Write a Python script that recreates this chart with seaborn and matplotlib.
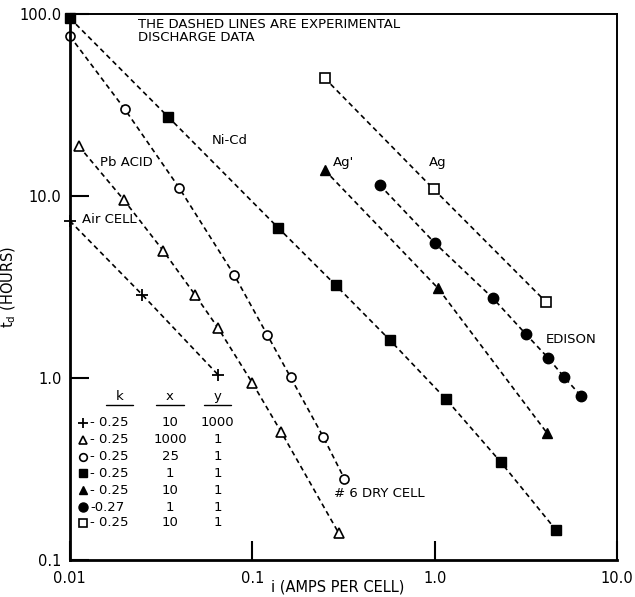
import matplotlib
matplotlib.use("Agg")
import matplotlib.pyplot as plt
import seaborn as sns
import pandas as pd
import numpy as np

# ---- data ----
air_x = [0.01, 0.025, 0.065]
air_y = [7.3, 2.86, 1.04]
pb_x = [0.0112, 0.0198, 0.0325, 0.0486, 0.065, 0.1, 0.144, 0.297]
pb_y = [18.8, 9.5, 5.0, 2.86, 1.88, 0.94, 0.505, 0.141]
dry_x = [0.01, 0.020, 0.0397, 0.0796, 0.121, 0.162, 0.245, 0.32]
dry_y = [75.7, 30.0, 11.1, 3.68, 1.72, 1.01, 0.474, 0.279]
nicd_x = [0.01, 0.0346, 0.139, 0.286, 0.566, 1.15, 2.30, 4.62]
nicd_y = [95.0, 27.2, 6.67, 3.24, 1.62, 0.767, 0.345, 0.146]
agp_x = [0.249, 1.04, 4.12]
agp_y = [13.9, 3.12, 0.499]
edison_x = [0.499, 1.0, 2.08, 3.16, 4.18, 5.12, 6.34]
edison_y = [11.5, 5.52, 2.75, 1.74, 1.29, 1.01, 0.796]
ag_x = [0.249, 0.987, 4.07]
ag_y = [44.5, 10.9, 2.62]

series_names = ["Air CELL", "Pb ACID", "#6 DRY CELL", "Ni-Cd", "Ag'", "EDISON", "Ag"]
series_x = [air_x, pb_x, dry_x, nicd_x, agp_x, edison_x, ag_x]
series_y = [air_y, pb_y, dry_y, nicd_y, agp_y, edison_y, ag_y]

legend_k = ["- 0.25", "- 0.25", "- 0.25", "- 0.25", "- 0.25", "-0.27", "- 0.25"]
legend_xcol = ["10", "1000", "25", "1", "10", "1", "10"]
legend_ycol = ["1000", "1", "1", "1", "1", "1", "1"]
legend_order = ["Air CELL", "Pb ACID", "#6 DRY CELL", "Ni-Cd", "Ag'", "EDISON", "Ag"]

x_ticks = [0.01, 0.1, 1.0, 10.0]
x_ticklabels = ["0.01", "0.1", "1.0", "10.0"]
y_ticks = [0.1, 1.0, 10.0, 100.0]
y_ticklabels = ["0.1", "1.0", "10.0", "100.0"]

frames = []
for n, xs, ys in zip(series_names, series_x, series_y):
    frames.append(pd.DataFrame({"i": xs, "td": ys, "cell": n}))
df = pd.concat(frames, ignore_index=True)

styles = {
    "Air CELL": dict(marker="+", mfc="black", ms=8, mew=1.3),
    "Pb ACID": dict(marker="^", mfc="white", ms=6.5, mew=1.2),
    "#6 DRY CELL": dict(marker="o", mfc="white", ms=6.5, mew=1.2),
    "Ni-Cd": dict(marker="s", mfc="black", ms=6.5, mew=1.0),
    "Ag'": dict(marker="^", mfc="black", ms=7, mew=1.0),
    "EDISON": dict(marker="o", mfc="black", ms=7.5, mew=1.0),
    "Ag": dict(marker="s", mfc="white", ms=6.5, mew=1.2),
}

sns.set_theme(style="ticks")
plt.rcParams["font.family"] = ["DejaVu Sans"]
plt.rcParams["text.color"] = "black"
plt.rcParams["axes.labelcolor"] = "black"
plt.rcParams["xtick.color"] = "black"
plt.rcParams["ytick.color"] = "black"

fig = plt.figure(figsize=(6.35, 5.97), dpi=100)
ax = fig.add_axes([0.110, 0.062, 0.862, 0.9145])

for n in series_names:
    sub = df[df["cell"] == n]
    st = styles[n]
    sns.lineplot(data=sub, x="i", y="td", ax=ax, estimator=None, sort=False,
                 color="black", linestyle=(0, (3, 2.2)), linewidth=1.2,
                 marker=st["marker"], markersize=st["ms"],
                 markerfacecolor=st["mfc"], markeredgecolor="black",
                 markeredgewidth=st["mew"], clip_on=False, legend=False)

ax.set_xscale("log")
ax.set_yscale("log")
ax.set_xlim(0.01, 10)
ax.set_ylim(0.1, 100)
ax.minorticks_off()
ax.set_xticks(x_ticks)
ax.set_xticklabels(x_ticklabels, fontsize=10.5)
ax.set_yticks(y_ticks)
ax.set_yticklabels(y_ticklabels, fontsize=10.5)
ax.tick_params(axis="both", direction="in", length=14, width=1.5, colors="black")
ax.tick_params(axis="x", pad=8)
ax.tick_params(axis="y", pad=6)
ax.set_xlabel("i (AMPS PER CELL)", fontsize=10.5)
ax.xaxis.set_label_coords(0.49, -0.036)
ax.set_ylabel("t$_\\mathregular{d}$ (HOURS)", fontsize=10.5)
ax.yaxis.set_label_coords(-0.095, 0.5)

for s in ["left", "bottom"]:
    ax.spines[s].set_linewidth(2.0)
for s in ["top", "right"]:
    ax.spines[s].set_linewidth(1.4)
    ax.spines[s].set_visible(True)
for s in ax.spines.values():
    s.set_color("black")

# annotations
fs = 9.5
ax.text(0.0236, 95, "THE DASHED LINES ARE EXPERIMENTAL\nDISCHARGE DATA", fontsize=fs,
        va="top", ha="left", linespacing=1.0)
ax.text(0.0603, 20.3, "Ni-Cd", fontsize=fs, va="center", ha="left")
ax.text(0.0146, 15.2, "Pb ACID", fontsize=fs, va="center", ha="left")
ax.text(0.0116, 7.4, "Air CELL", fontsize=fs, va="center", ha="left")
ax.text(0.275, 15.2, "Ag'", fontsize=fs, va="center", ha="left")
ax.text(0.925, 15.2, "Ag", fontsize=fs, va="center", ha="left")
ax.text(4.07, 1.62, "EDISON", fontsize=fs, va="center", ha="left")
ax.text(0.279, 0.233, "# 6 DRY CELL", fontsize=fs, va="center", ha="left")

# legend table (axes coordinates)
T = ax.transAxes
hdr_y = 0.2875
ax.text(0.091, hdr_y, "k", transform=T, fontsize=fs, ha="center", va="bottom")
ax.text(0.183, hdr_y, "x", transform=T, fontsize=fs, ha="center", va="bottom")
ax.text(0.270, hdr_y, "y", transform=T, fontsize=fs, ha="center", va="bottom")
for cx in [0.091, 0.183, 0.270]:
    ax.plot([cx - 0.025, cx + 0.025], [hdr_y - 0.004, hdr_y - 0.004], transform=T,
            color="black", lw=1.0, clip_on=False)
row_y = [0.251, 0.220, 0.189, 0.159, 0.128, 0.097, 0.068]
for ry, n, kk, xx, yy in zip(row_y, legend_order, legend_k, legend_xcol, legend_ycol):
    st = styles[n]
    ax.plot([0.024], [ry], transform=T, marker=st["marker"], ms=st["ms"] - 1,
            mfc=st["mfc"], mec="black", mew=st["mew"], color="black",
            linestyle="none", clip_on=False)
    ax.text(0.037, ry, kk, transform=T, fontsize=fs, ha="left", va="center")
    ax.text(0.183, ry, xx, transform=T, fontsize=fs, ha="center", va="center")
    ax.text(0.270, ry, yy, transform=T, fontsize=fs, ha="center", va="center")

fig.savefig("out.png", dpi=100)
